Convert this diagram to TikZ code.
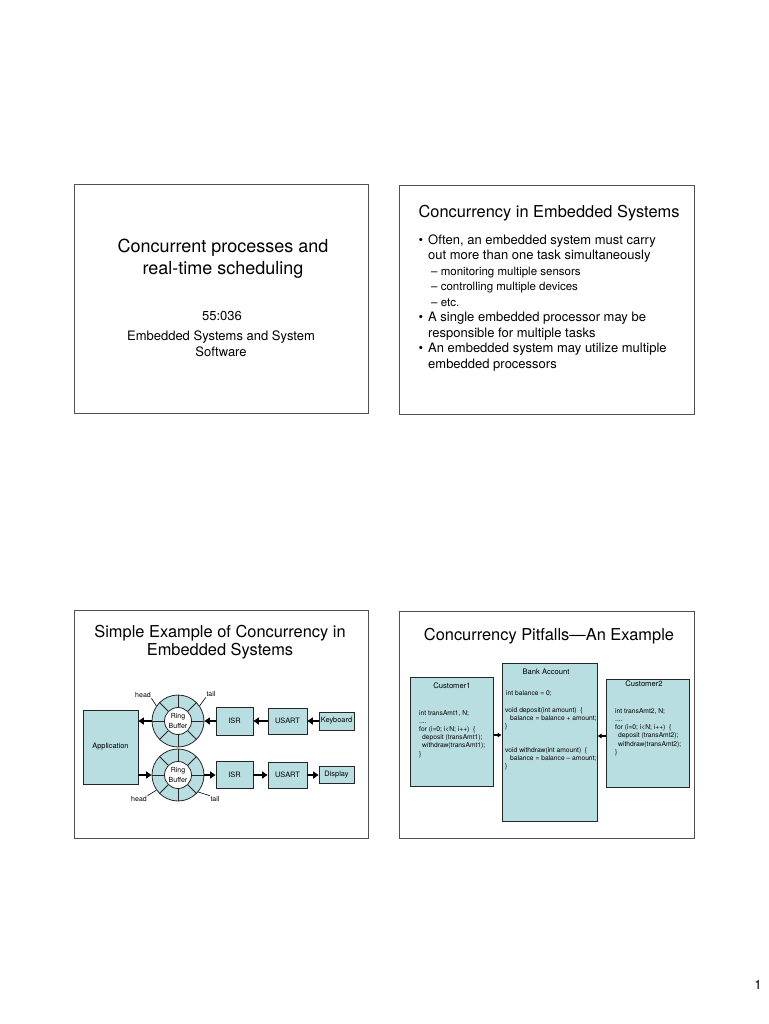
\documentclass[tikz,border=0pt]{standalone}
\usepackage{fontspec}
\setmainfont{TeX Gyre Heros}
\usetikzlibrary{arrows.meta}
\definecolor{boxblue}{RGB}{185,222,226}
\definecolor{framegray}{RGB}{80,80,80}

\begin{document}
\begin{tikzpicture}[x=1pt,y=-1pt,
  slide/.style={draw=framegray,line width=1pt},
  ttl/.style={font=\fontsize{16.4}{20}\selectfont,anchor=base,inner sep=0pt},
  txt/.style={font=\fontsize{13}{15}\selectfont,anchor=base west,inner sep=0pt},
  subtxt/.style={font=\fontsize{11.5}{14}\selectfont,anchor=base west,inner sep=0pt},
  blk/.style={draw=black!85,fill=boxblue,line width=0.8pt,inner sep=0pt,font=\fontsize{7.4}{9}\selectfont},
  ringbuf/.style={circle,draw=black!85,fill=boxblue,line width=0.8pt,minimum size=52pt,inner sep=0pt},
  hole/.style={circle,draw=black!85,fill=white,line width=0.8pt,minimum size=27pt,inner sep=0pt},
  ringtxt/.style={align=center,inner sep=0pt,font=\fontsize{7}{10.5}\selectfont},
  spoke/.style={draw=black!85,line width=0.8pt},
  tag/.style={font=\fontsize{7}{8}\selectfont,inner sep=0.5pt},
  lead/.style={line width=0.6pt},
  arr/.style={line width=1.8pt,-{Triangle[length=5.5pt,width=7pt]}},
  sarr/.style={line width=1.1pt,-{Triangle[length=4pt,width=4.5pt]}},
  acct/.style={draw=black!85,fill=boxblue,line width=1pt,inner sep=0pt},
  head/.style={font=\fontsize{7.6}{9}\selectfont,inner sep=0pt},
  code/.style={font=\fontsize{6.7}{8.1}\selectfont,align=left,anchor=north west,inner sep=0pt}]

\fill[white] (0,0) rectangle (768,1024);
\useasboundingbox (0,0) rectangle (768,1024);

% the four slide frames
\draw[slide] (74,185) rectangle (368,413);
\draw[slide] (399,186) rectangle (694,414);
\draw[slide] (74,610) rectangle (368,838);
\draw[slide] (399,611) rectangle (694,838);

% slide 1
\node[ttl,font=\fontsize{18}{22}\selectfont] (t1a) at (223,252) {Concurrent processes and};
\node[ttl,font=\fontsize{18}{22}\selectfont] (t1b) at (223,274) {real-time scheduling};
\node[ttl,font=\fontsize{13}{15}\selectfont] (course) at (222,320) {55:036};
\node[ttl,font=\fontsize{13}{15}\selectfont] (s1a) at (221,340.7) {Embedded Systems and System};
\node[ttl,font=\fontsize{13}{15}\selectfont] (s1b) at (221,356) {Software};

% slide 2
\node[ttl] (t2) at (549,217.7) {Concurrency in Embedded Systems};
\foreach \y [count=\i] in {244.3,321.7,352.7}
  \node[txt] (dot\i) at (418.5,\y) {•};
\foreach \y/\t [count=\i] in {244.3/{Often, an embedded system must carry},
    259.3/{out more than one task simultaneously},
    321.7/{A single embedded processor may be},
    337.7/{responsible for multiple tasks},
    352.7/{An embedded system may utilize multiple},
    368/{embedded processors}}
  \node[txt] (ln\i) at (428,\y) {\t};
\foreach \y/\t [count=\i] in {275/monitoring multiple sensors,
    290/controlling multiple devices, 306/etc.}
  \node[subtxt] (sub\i) at (431,\y) {– \t};

% slide 3
\node[ttl] (t3a) at (220,637.3) {Simple Example of Concurrency in};
\node[ttl] (t3b) at (220,655.7) {Embedded Systems};

\node[blk,minimum width=55pt,minimum height=74pt] (app) at (110.5,747) {Application};

\node[ringbuf] (rb1) at (178,721) {};
\node[ringbuf] (rb2) at (178,775) {};
\foreach \r in {rb1,rb2}{% eight cells round each buffer
  \foreach \a in {0,45,...,315}
    \draw[spoke] (\r.center) -- (\r.\a);}
\node[hole] (rh1) at (rb1) {};
\node[hole] (rh2) at (rb2) {};
\node[ringtxt] (rt1) at (rb1) {Ring\\Buffer};
\node[ringtxt] (rt2) at (rb2) {Ring\\Buffer};

\node[blk,minimum width=37pt,minimum height=28pt] (isr1) at (234.5,721) {ISR};
\node[blk,minimum width=39pt,minimum height=26pt] (us1) at (287.5,721) {USART};
\node[blk,minimum width=35pt,minimum height=18pt] (kb) at (336.5,721) {Keyboard};
\node[blk,minimum width=37pt,minimum height=27pt] (isr2) at (234.5,775) {ISR};
\node[blk,minimum width=39pt,minimum height=26pt] (us2) at (287.5,775) {USART};
\node[blk,minimum width=35pt,minimum height=17pt] (disp) at (336.5,775) {Display};

\draw[arr] (kb) -- (us1);
\draw[arr] (us1) -- (isr1);
\draw[arr] (isr1) -- (rb1);
\draw[arr] (rb1.west) -- (rb1.west -| app.east);
\draw[arr] (app.east |- rb2.west) -- (rb2.west);
\draw[arr] (rb2) -- (isr2);
\draw[arr] (isr2) -- (us2);
\draw[arr] (us2) -- (disp);

\node[tag] (hd1) at (143,695) {head};
\node[tag] (tl1) at (211,694) {tail};
\node[tag] (hd2) at (139,799) {head};
\node[tag] (tl2) at (215,799) {tail};
\draw[lead] (hd1.south east) -- (rb1.145);
\draw[lead] (tl1.south west) -- (rb1.35);
\draw[lead] (hd2.north east) -- (rb2.215);
\draw[lead] (tl2.north west) -- (rb2.320);

% slide 4
\node[ttl] (t4) at (549,640.7) {Concurrency Pitfalls—An Example};

\node[acct,minimum width=83pt,minimum height=109pt] (cust1) at (451.5,731.5) {};
\node[acct,minimum width=95pt,minimum height=158pt] (bank) at (549.5,742) {};
\node[acct,minimum width=83pt,minimum height=108pt] (cust2) at (647.5,733) {};

\node[head] (cust1t) at (452,686) {Customer1};
\node[head] (bankt) at (546,672) {Bank Account};
\node[head] (cust2t) at (644,684) {Customer2};

\node[code] (cust1c) at (419,710.5) {int transAmt1, N;\\....\\for (i=0; i<N; i++)\ \ \{\\
  \hspace*{3pt}deposit (transAmt1);\\\hspace*{3pt}withdraw(transAmt1);\\\}};
\node[code] (bankc) at (505,690.6) {\hspace*{1pt}int balance = 0;\\[8.3pt]
  void deposit(int amount)\ \ \{\\\hspace*{5pt}balance = balance + amount;\\\}\\[16.4pt]
  void withdraw(int amount)\ \ \{\\\hspace*{5pt}balance = balance – amount;\\\}};
\node[code] (cust2c) at (615,708.6) {int transAmt2, N;\\....\\for (i=0; i<N; i++)\ \ \{\\
  \hspace*{3pt}deposit (transAmt2);\\\hspace*{3pt}withdraw(transAmt2);\\\}};

\coordinate (c1p) at ([yshift=-3.5pt]cust1.east);
\coordinate (c2p) at ([yshift=-3pt]cust2.west);
\draw[sarr] (c1p) -- (c1p -| bank.west);
\draw[sarr] (c2p) -- (c2p -| bank.east);

% page number
\node[font=\fontsize{13}{15}\selectfont] (pgno) at (758,985) {1};

\end{tikzpicture}
\end{document}
